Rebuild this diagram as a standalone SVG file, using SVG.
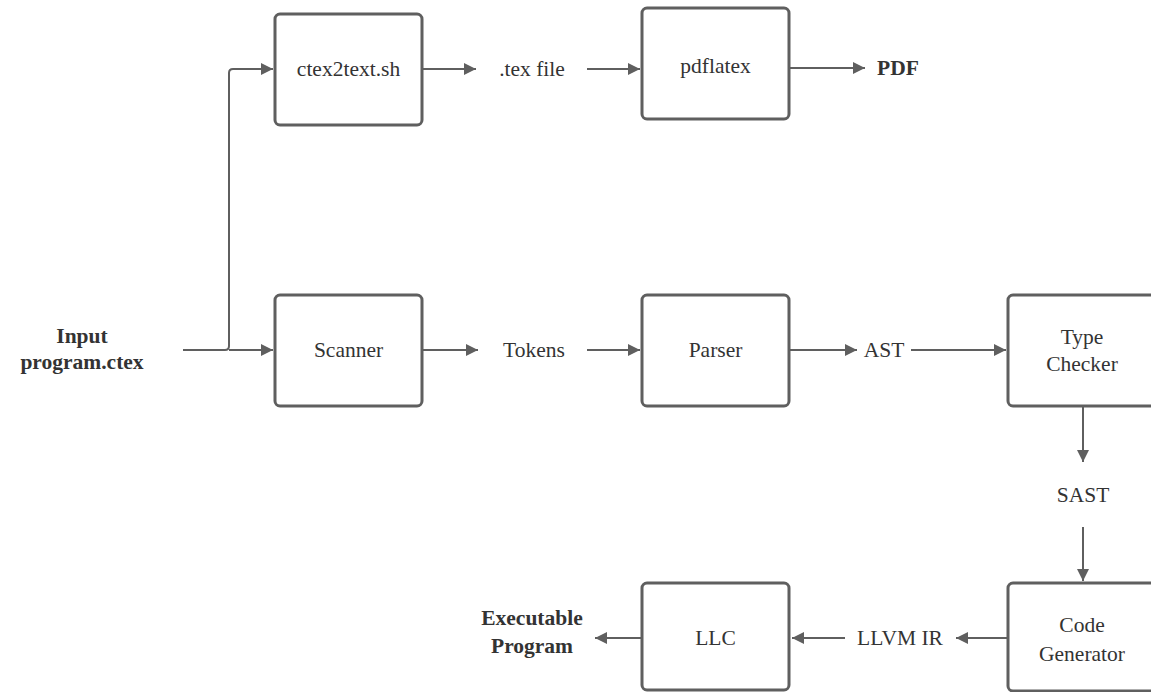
<svg xmlns="http://www.w3.org/2000/svg" width="1151" height="692" viewBox="0 0 1151 692">
<defs>
<style>
.box{fill:#fff;stroke:#5f5f5f;stroke-width:3}
.t{font-family:"Liberation Serif","DejaVu Serif",serif;font-size:21.5px;fill:#333;text-anchor:middle;dominant-baseline:central}
.b{font-weight:bold}
.c{fill:none;stroke:#5f5f5f;stroke-width:2}
</style>
<marker id="ah" viewBox="0 0 10 10" refX="10" refY="5" markerWidth="16" markerHeight="12" markerUnits="userSpaceOnUse" orient="auto">
<path d="M0,0 L10,5 L0,10 z" fill="#5f5f5f"/>
</marker>
</defs>
<rect width="1151" height="692" fill="#fff"/>
<g id="connectors">
<path class="c" d="M183,350 H225 Q229,350 229,346 V73 Q229,69 233,69 H273" marker-end="url(#ah)"/>
<path class="c" d="M229,350 H273" marker-end="url(#ah)"/>
<path class="c" d="M423,69 H476" marker-end="url(#ah)"/>
<path class="c" d="M587,69 H640" marker-end="url(#ah)"/>
<path class="c" d="M790,68 H865" marker-end="url(#ah)"/>
<path class="c" d="M423,350 H478" marker-end="url(#ah)"/>
<path class="c" d="M587,350 H640" marker-end="url(#ah)"/>
<path class="c" d="M790,350 H857" marker-end="url(#ah)"/>
<path class="c" d="M911,350 H1006" marker-end="url(#ah)"/>
<path class="c" d="M1083,407 V462" marker-end="url(#ah)"/>
<path class="c" d="M1083,527 V581" marker-end="url(#ah)"/>
<path class="c" d="M1008,638 H956" marker-end="url(#ah)"/>
<path class="c" d="M845,638 H792" marker-end="url(#ah)"/>
<path class="c" d="M642,638 H595" marker-end="url(#ah)"/>
</g>
<g id="input"><text class="t b" x="82" y="336">Input</text><text class="t b" x="82" y="362">program.ctex</text></g>
<g id="ctex2text"><rect class="box" x="275" y="14" width="147" height="111" rx="5"/><text class="t" x="348.5" y="69">ctex2text.sh</text></g>
<g id="texfile"><text class="t" x="532" y="69">.tex file</text></g>
<g id="pdflatex"><rect class="box" x="642" y="8" width="147" height="111" rx="5"/><text class="t" x="715.5" y="66">pdflatex</text></g>
<g id="pdf"><text class="t b" x="898" y="68">PDF</text></g>
<g id="scanner"><rect class="box" x="275" y="295" width="147" height="111" rx="5"/><text class="t" x="348.5" y="350">Scanner</text></g>
<g id="tokens"><text class="t" x="534" y="350">Tokens</text></g>
<g id="parser"><rect class="box" x="642" y="295" width="147" height="111" rx="5"/><text class="t" x="715.5" y="350">Parser</text></g>
<g id="ast"><text class="t" x="884" y="350">AST</text></g>
<g id="typechecker"><rect class="box" x="1008" y="295" width="148" height="111" rx="5"/><text class="t" x="1082" y="337">Type</text><text class="t" x="1082" y="364">Checker</text></g>
<g id="sast"><text class="t" x="1083" y="495">SAST</text></g>
<g id="codegen"><rect class="box" x="1008" y="583" width="148" height="108" rx="5"/><text class="t" x="1082" y="625">Code</text><text class="t" x="1082" y="654">Generator</text></g>
<g id="llvmir"><text class="t" x="900" y="638">LLVM IR</text></g>
<g id="llc"><rect class="box" x="642" y="583" width="147" height="107" rx="5"/><text class="t" x="715.5" y="638">LLC</text></g>
<g id="executable"><text class="t b" x="532" y="618">Executable</text><text class="t b" x="532" y="646">Program</text></g>
</svg>
